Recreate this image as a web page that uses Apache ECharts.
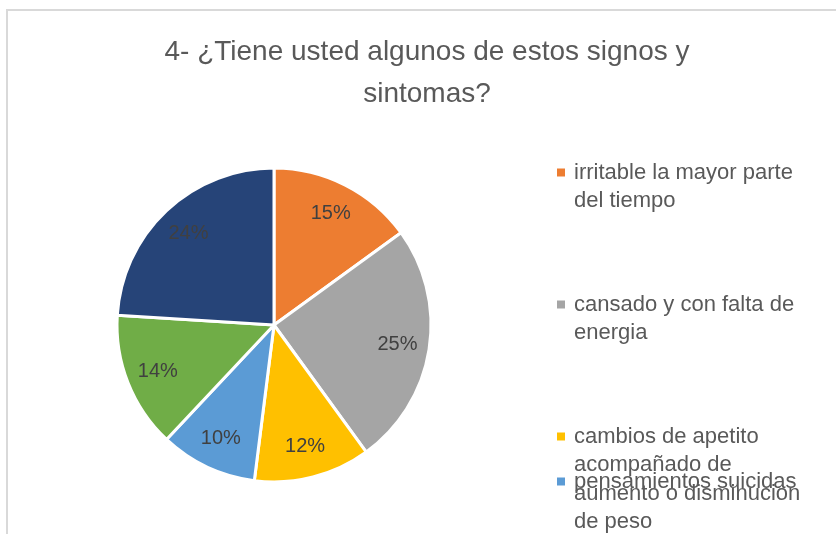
<!DOCTYPE html>
<html>
<head>
<meta charset="utf-8">
<script src="https://cdn.jsdelivr.net/npm/echarts@6/dist/echarts.min.js"></script>
<style>
  html, body { margin: 0; padding: 0; background: #fff; }
  #main { width: 836px; height: 534px; }
</style>
</head>
<body>
<div id="main"></div>
<script>
// datos del grafico (porcentajes)
const categories = [
  'irritable la mayor parte del tiempo',
  'cansado y con falta de energia',
  'cambios de apetito acompañado de aumento o disminucion de peso',
  'pensamientos suicidas',
  'opción 5',
  'opción 6'
];
const values = [15, 25, 12, 10, 14, 24];
const colors = ['#ED7D31', '#A5A5A5', '#FFC000', '#5B9BD5', '#70AD47', '#264478'];
// texto de leyenda partido en lineas como en el original
const legendLines = [
  ['irritable la mayor parte', 'del tiempo'],
  ['cansado y con falta de', 'energia'],
  ['cambios de apetito', 'acompañado de', 'aumento o disminucion', 'de peso'],
  ['pensamientos suicidas']
];
const legendCenterY = [172.5, 304.5, 436.5, 481.5];

const FONT = 'Liberation Sans';
const LH = 28.5;

const pieData = categories.map((name, i) => ({ name: name, value: values[i] }));

// una leyenda por elemento, con lineas vacias arriba para que el icono quede en la primera linea
const legends = legendLines.map((lines, i) => {
  const pad = [];
  for (let k = 1; k < lines.length; k++) pad.push('');
  const total = pad.length + lines.length;
  return {
    data: [categories[i]],
    orient: 'vertical',
    left: 557,
    top: legendCenterY[i] - total * LH / 2,
    padding: 0,
    icon: 'rect',
    itemWidth: 8,
    itemHeight: 8,
    itemStyle: { borderWidth: 0 },
    selectedMode: false,
    textStyle: { fontFamily: FONT, fontSize: 22, color: '#595959', lineHeight: LH, padding: [0, 0, 0, 4] },
    formatter: () => pad.concat(lines).join('\n')
  };
});

const chart = echarts.init(document.getElementById('main'));
chart.setOption({
  animation: false,
  color: colors,
  title: {
    text: '4- ¿Tiene usted algunos de estos signos y\nsintomas?',
    left: 427,
    textAlign: 'center',
    top: 31,
    padding: 0,
    textStyle: { fontFamily: FONT, fontSize: 28, fontWeight: 'normal', color: '#595959', lineHeight: 42 }
  },
  legend: legends,
  graphic: [{
    type: 'rect',
    shape: { x: 7, y: 10, width: 900, height: 600 },
    style: { fill: 'none', stroke: '#d9d9d9', lineWidth: 2 },
    silent: true
  }],
  series: [
    {
      type: 'pie',
      center: [274, 325],
      radius: [0, 157],
      startAngle: 90,
      clockwise: true,
      data: pieData,
      itemStyle: { borderColor: '#fff', borderWidth: 3 },
      label: { show: false },
      labelLine: { show: false },
      emphasis: { disabled: true }
    },
    {
      // anillo transparente solo para colocar las etiquetas mas cerca del borde
      type: 'pie',
      center: [274, 325],
      radius: [88, 156],
      startAngle: 90,
      clockwise: true,
      silent: true,
      data: pieData,
      itemStyle: { color: 'rgba(0,0,0,0)', borderWidth: 0 },
      label: {
        show: true,
        position: 'inside',
        formatter: '{d}%',
        fontFamily: FONT,
        fontSize: 20,
        color: '#404040'
      },
      labelLine: { show: false },
      emphasis: { disabled: true }
    }
  ]
});
</script>
</body>
</html>
